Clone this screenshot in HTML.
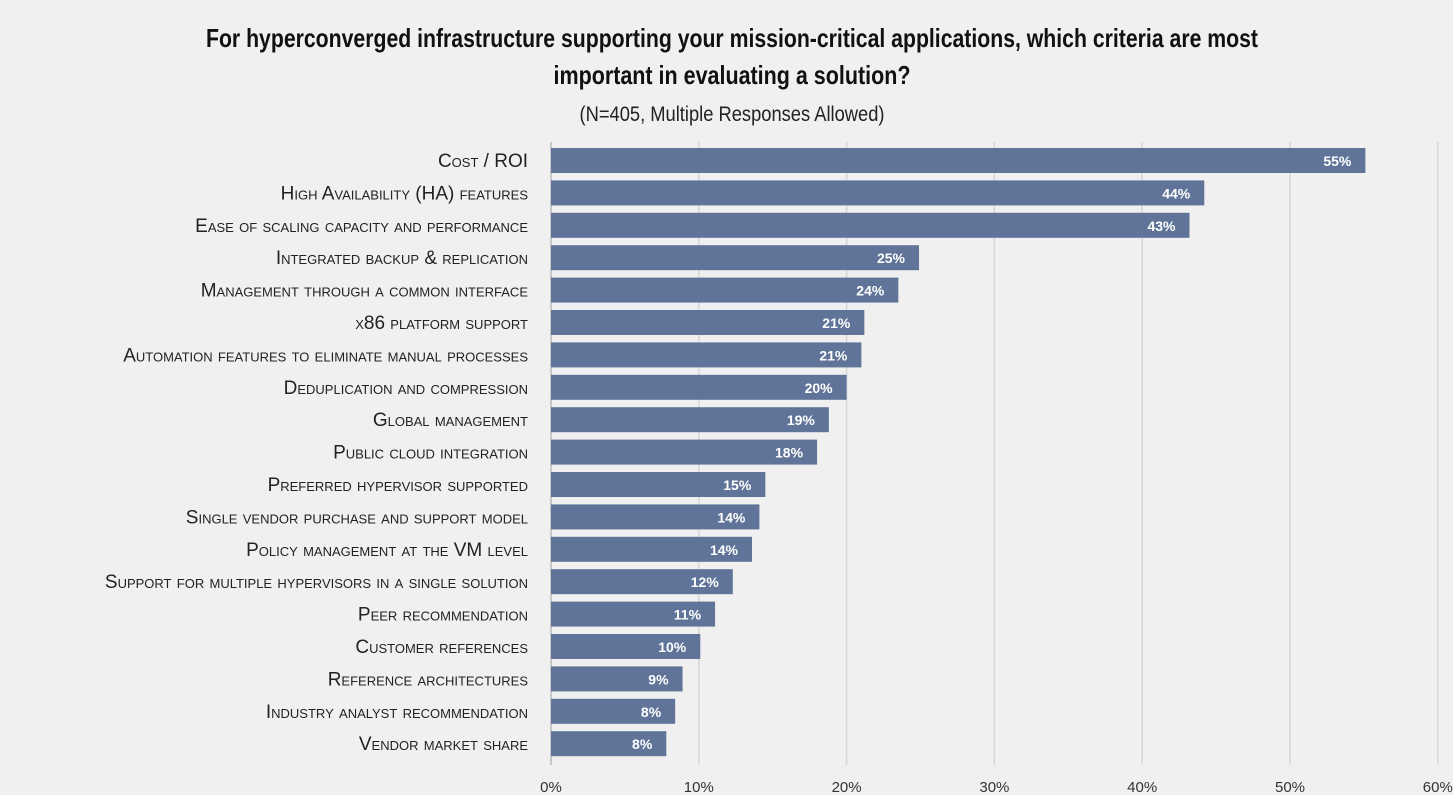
<!DOCTYPE html>
<html><head><meta charset="utf-8"><style>
body{margin:0;background:#f0f0f0;}
svg{display:block;font-family:"Liberation Sans",sans-serif;}
</style></head><body>
<svg id="chart" width="1453" height="795" viewBox="0 0 1453 795">
<rect width="1453" height="795" fill="#f0f0f0"/>
<text x="732" y="47" text-anchor="middle" font-size="26" font-weight="bold" fill="#111" textLength="1052" lengthAdjust="spacingAndGlyphs">For hyperconverged infrastructure supporting your mission-critical applications, which criteria are most</text>
<text x="732" y="84" text-anchor="middle" font-size="26" font-weight="bold" fill="#111" textLength="357" lengthAdjust="spacingAndGlyphs">important in evaluating a solution?</text>
<text x="732" y="121" text-anchor="middle" font-size="21" fill="#222" textLength="305" lengthAdjust="spacingAndGlyphs">(N=405, Multiple Responses Allowed)</text>
<g id="grid"></g><g id="bars"></g><g id="labels"></g><g id="ticks"></g>
</svg>
<script>
const categories=["Cost / ROI","High Availability (HA) features","Ease of scaling capacity and performance","Integrated backup & replication","Management through a common interface","x86 platform support","Automation features to eliminate manual processes","Deduplication and compression","Global management","Public cloud integration","Preferred hypervisor supported","Single vendor purchase and support model","Policy management at the VM level","Support for multiple hypervisors in a single solution","Peer recommendation","Customer references","Reference architectures","Industry analyst recommendation","Vendor market share"];
const values=[55.1,44.2,43.2,24.9,23.5,21.2,21.0,20.0,18.8,18.0,14.5,14.1,13.6,12.3,11.1,10.1,8.9,8.4,7.8];
const valueLabels=["55%","44%","43%","25%","24%","21%","21%","20%","19%","18%","15%","14%","14%","12%","11%","10%","9%","8%","8%"];
const ticks=[0,10,20,30,40,50,60];
const NS="http://www.w3.org/2000/svg";
const x0=551,xScale=v=>x0+v*14.78;
const yBand=i=>148+i*32.4,bh=25;
function mk(t,a,p){const e=document.createElementNS(NS,t);for(const k in a)e.setAttribute(k,a[k]);p.appendChild(e);return e;}
const grid=document.getElementById('grid'),bars=document.getElementById('bars'),labels=document.getElementById('labels'),tk=document.getElementById('ticks');
ticks.forEach(t=>{
 const l=mk('line',{x1:xScale(t),x2:xScale(t),y1:142,y2:765,stroke:t===0?'#bbb':'#d6d6d6','stroke-width':1.5},grid);
 
 
 const tx=mk('text',{x:xScale(t),y:792,'text-anchor':'middle','font-size':15,fill:'#333'},tk);
 tx.textContent=t+'%';
 
 
});
categories.forEach((c,i)=>{
 const y=yBand(i);
 const r=mk('rect',{x:x0,y:y,width:xScale(values[i])-x0,height:bh,fill:'#5f7498'},bars);
 
 
 const v=mk('text',{x:xScale(values[i])-14,y:y+18,'text-anchor':'end','font-size':14,'font-weight':'bold',fill:'#fff'},bars);
 v.textContent=valueLabels[i];
 
 
 const lb=mk('text',{x:528,y:y+19,'text-anchor':'end','font-size':19,fill:'#222','font-variant':'small-caps'},labels);
 lb.textContent=c;
 
 
 const w=lb.getComputedTextLength();
 const target=c.length*10.1;
 if(w>target){lb.setAttribute('textLength',target);lb.setAttribute('lengthAdjust','spacingAndGlyphs');}
});
</script>
</body></html>
